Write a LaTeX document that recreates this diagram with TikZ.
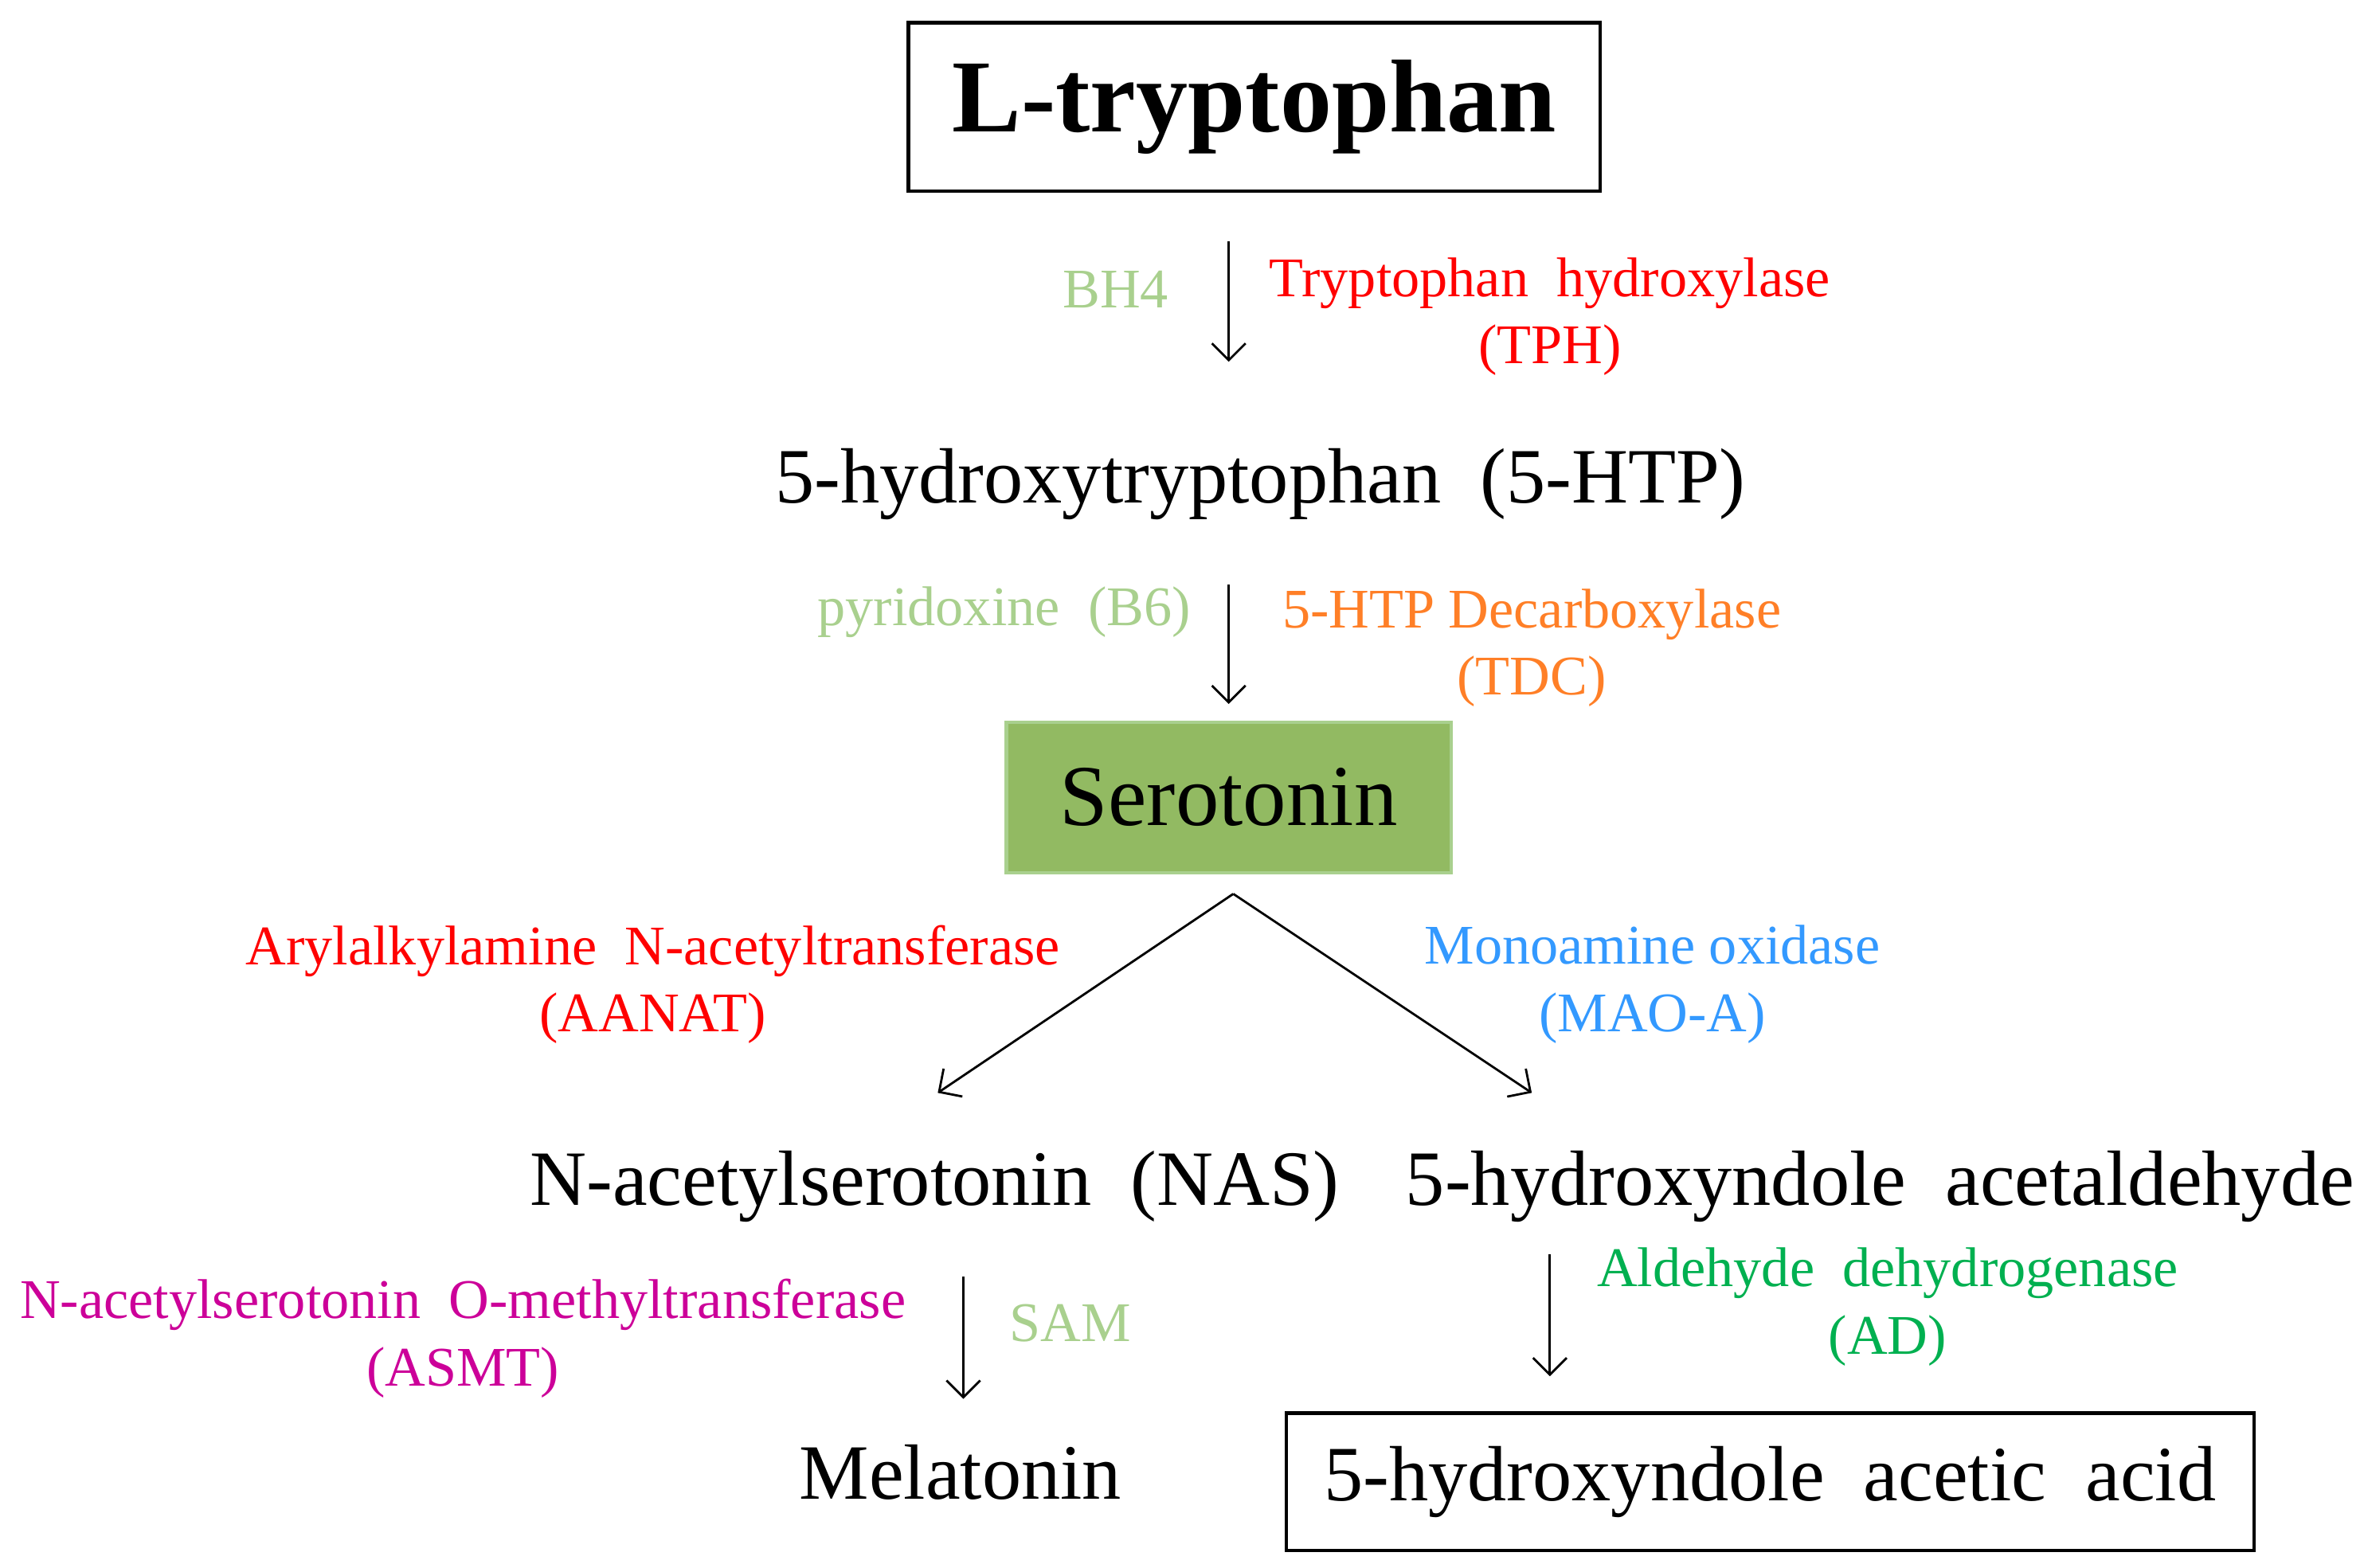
\documentclass[tikz,border=0pt]{standalone}
\usepackage{fontspec}
\setmainfont{Liberation Serif}
\usetikzlibrary{positioning, calc, arrows.meta}
\definecolor{cofactor}{RGB}{169,208,142}
\definecolor{tphred}{RGB}{255,0,0}
\definecolor{tdcorange}{RGB}{255,127,39}
\definecolor{maoblue}{RGB}{51,153,255}
\definecolor{asmtmag}{RGB}{204,0,153}
\definecolor{adgreen}{RGB}{0,176,80}
\definecolor{serofill}{RGB}{146,186,98}
\definecolor{seroline}{RGB}{169,208,142}

\begin{document}
\begin{tikzpicture}[x=0.01893cm, y=-0.01893cm,
		mol/.style={align=center, font=\fontsize{28}{32}\selectfont},
		enz/.style={align=center, font=\fontsize{20}{24}\selectfont},
		arrow/.style={arrows = {-Straight Barb[length=6pt, width=12pt]}, line width=0.8pt}]
	\useasboundingbox (0,0) rectangle (1568,1040);
	\node[mol, draw, line width=1.2pt, minimum width=8.689cm, minimum height=2.12cm, font=\fontsize{37}{40}\selectfont\bfseries] (trp) at (832,71) {L-tryptophan};
	\node[mol] (htp) at (836,321) {5-hydroxytryptophan\ \ (5-HTP)};
	\node[mol, draw=seroline, line width=1.2pt, fill=serofill, minimum width=5.584cm, minimum height=1.893cm, font=\fontsize{31}{34}\selectfont] (sero) at (815,529) {Serotonin};
	\node[mol] (nas) at (620,787) {N-acetylserotonin\ \ (NAS)};
	\node[mol] (hiald) at (1247,787) {5-hydroxyndole\ \ acetaldehyde};
	\node[mol] (mel) at (637,977) {Melatonin};
	\node[mol, draw, line width=1.2pt, minimum width=12.153cm, minimum height=1.723cm] (hiaa) at (1174,983) {5-hydroxyndole\ \ acetic\ \ acid};

	% enzymes and cofactors
	\node[enz, text=cofactor] (bh4) at (740,192) {BH4};
	\node[enz, text=tphred] (tph) at (1028,210) {Tryptophan\ \ hydroxylase\\(TPH)};
	\node[enz, text=cofactor] (b6) at (666,406) {pyridoxine\ \ (B6)};
	\node[enz, text=tdcorange] (tdc) at (1016,430) {5-HTP Decarboxylase\\(TDC)};
	\node[enz, text=tphred] (aanat) at (433,653) {Arylalkylamine\ \ N-acetyltransferase\\(AANAT)};
	\node[enz, text=maoblue] (mao) at (1096,653) {Monoamine oxidase\\(MAO-A)};
	\node[enz, text=asmtmag] (asmt) at (307,888) {N-acetylserotonin\ \ O-methyltransferase\\(ASMT)};
	\node[enz, text=cofactor] (sam) at (710,878) {SAM};
	\node[enz, text=adgreen] (ad) at (1252,867) {Aldehyde\ \ dehydrogenase\\(AD)};

	\coordinate (a1s) at (815,160); \coordinate (a1e) at (815,240);
	\coordinate (a2s) at (815,388); \coordinate (a2e) at (815,467);
	\coordinate (fork) at (818,593);
	\coordinate (nasin) at (622,725); \coordinate (hin) at (1016,725);
	\coordinate (a3s) at (639,847); \coordinate (a3e) at (639,928);
	\coordinate (a4s) at (1028,832); \coordinate (a4e) at (1028,913);

	\draw[arrow] (a1s) -- (a1e);
	\draw[arrow] (a2s) -- (a2e);
	\draw[arrow] (fork) -- (nasin);
	\draw[arrow] (fork) -- (hin);
	\draw[arrow] (a3s) -- (a3e);
	\draw[arrow] (a4s) -- (a4e);
\end{tikzpicture}
\end{document}
